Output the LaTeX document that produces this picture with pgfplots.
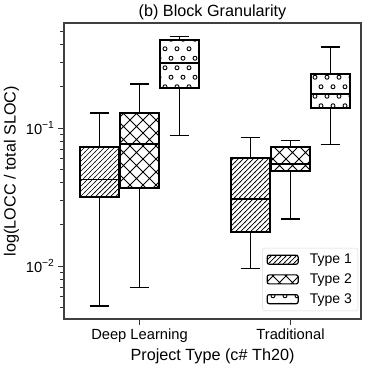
\documentclass[border=0pt]{standalone}
\usepackage{pgfplots}
\pgfplotsset{compat=1.18}
\usetikzlibrary{patterns}
\usepackage{fontspec}
\setmainfont{Liberation Sans}

\pgfdeclarepatternformonly{mylines}{\pgfqpoint{-1pt}{-1pt}}{\pgfqpoint{6pt}{6pt}}{\pgfqpoint{5pt}{5pt}}{%
 \pgfsetlinewidth{0.7pt}%
 \pgfpathmoveto{\pgfqpoint{-0.5pt}{-0.5pt}}%
 \pgfpathlineto{\pgfqpoint{5.5pt}{5.5pt}}%
 \pgfusepath{stroke}}
\pgfdeclarepatternformonly{mycross}{\pgfqpoint{-1pt}{-1pt}}{\pgfqpoint{14pt}{14pt}}{\pgfqpoint{13pt}{13pt}}{%
 \pgfsetlinewidth{0.8pt}%
 \pgfpathmoveto{\pgfqpoint{-0.5pt}{-0.5pt}}\pgfpathlineto{\pgfqpoint{13.5pt}{13.5pt}}%
 \pgfpathmoveto{\pgfqpoint{-0.5pt}{13.5pt}}\pgfpathlineto{\pgfqpoint{13.5pt}{-0.5pt}}%
 \pgfusepath{stroke}}
\pgfdeclarepatternformonly{mycircles}{\pgfqpoint{-3pt}{-3pt}}{\pgfqpoint{15pt}{22pt}}{\pgfqpoint{12pt}{19pt}}{%
 \pgfsetlinewidth{0.9pt}%
 \pgfpathcircle{\pgfqpoint{3pt}{4.75pt}}{2pt}%
 \pgfpathcircle{\pgfqpoint{9pt}{14.25pt}}{2pt}%
 \pgfusepath{stroke}}

\pgfplotsset{
 whisk/.style={black, line width=1.5pt, unbounded coords=jump, forget plot},
 boxs/.style={black, line width=2.2pt, line join=miter, forget plot},
 med/.style={black, line width=1.6pt, forget plot},
}

\begin{document}
\begin{tikzpicture}
\begin{axis}[
 scale only axis, width=297pt, height=296pt,
 xmin=-0.5, xmax=1.467,
 ymode=log, ymin=0.00413, ymax=0.577,
 xtick={0,1}, xticklabels={Deep Learning, Traditional},
 ytick={0.01,0.1}, yticklabels={10\textsuperscript{−2},10\textsuperscript{−1}},
 minor ytick={0.005,0.006,0.007,0.008,0.009,0.02,0.03,0.04,0.05,0.06,0.07,0.08,0.09,0.2,0.3,0.4,0.5},
 tick align=outside, tick pos=left,
 major tick length=6pt, minor tick length=3.5pt,
 every tick/.style={line width=1pt, color=black!80},
 axis line style={line width=1.2pt, color=black!75},
 ticklabel style={font=\fontsize{14.7}{16}\selectfont},
 label style={font=\fontsize{16.2}{18}\selectfont},
 title style={font=\fontsize{16.2}{18}\selectfont, at={(0.5,1)}, anchor=base, yshift=0.5pt},
 title={(b) Block Granularity},
 xlabel={Project Type (c\# Th20)},
 ylabel={log(LOCC / total SLOC)},
 legend style={at={(1,0)}, xshift=-3pt, yshift=8pt, anchor=south east, draw=black!15, rounded corners=2pt, fill=white, font=\fontsize{14}{16}\selectfont, row sep=4.5pt, inner sep=4pt,
   /tikz/every odd column/.append style={column sep=9pt}},
 legend cell align=left,
]
\addlegendimage{legend image code/.code={\draw[black, line width=1.2pt, pattern=mylines] (0pt,-4.5pt) rectangle (31pt,4.5pt);}}
\addlegendentry{Type 1}
\addlegendimage{legend image code/.code={\draw[black, line width=1.2pt, pattern=mycross] (0pt,-4.5pt) rectangle (31pt,4.5pt);}}
\addlegendentry{Type 2}
\addlegendimage{legend image code/.code={\draw[black, line width=1.2pt, pattern=mycircles] (0pt,-4.5pt) rectangle (31pt,4.5pt);}}
\addlegendentry{Type 3}

% ---- Deep Learning, Type 1 (x=-0.265): lw 0.00515, q1 0.0318, med 0.0425, q3 0.0732, uw 0.1285
\addplot[whisk] coordinates {(-0.265,0.0732) (-0.265,0.1285) (-0.265,nan) (-0.33,0.1285) (-0.2,0.1285) (-0.2,nan)
 (-0.265,0.0318) (-0.265,0.00515) (-0.265,nan) (-0.33,0.00515) (-0.2,0.00515)};
\addplot[boxs, pattern=mylines] coordinates {(-0.395,0.0318) (-0.135,0.0318) (-0.135,0.0732) (-0.395,0.0732)} -- cycle;
\addplot[med] coordinates {(-0.395,0.0425) (-0.135,0.0425)};

% ---- Deep Learning, Type 2 (x=0): lw 0.0070, q1 0.0366, med 0.0766, q3 0.129, uw 0.2085
\addplot[whisk] coordinates {(0,0.129) (0,0.2085) (0,nan) (-0.065,0.2085) (0.065,0.2085) (0.065,nan)
 (0,0.0366) (0,0.0070) (0,nan) (-0.065,0.0070) (0.065,0.0070)};
\addplot[boxs, pattern=mycross] coordinates {(-0.13,0.0366) (0.13,0.0366) (0.13,0.129) (-0.13,0.129)} -- cycle;
\addplot[med] coordinates {(-0.13,0.0766) (0.13,0.0766)};

% ---- Deep Learning, Type 3 (x=0.265): lw 0.0885, q1 0.194, med 0.297, q3 0.435, uw 0.459
\addplot[whisk] coordinates {(0.265,0.435) (0.265,0.459) (0.265,nan) (0.2,0.459) (0.33,0.459) (0.33,nan)
 (0.265,0.194) (0.265,0.0885) (0.265,nan) (0.2,0.0885) (0.33,0.0885)};
\addplot[boxs, pattern=mycircles] coordinates {(0.135,0.194) (0.395,0.194) (0.395,0.435) (0.135,0.435)} -- cycle;
\addplot[med] coordinates {(0.135,0.297) (0.395,0.297)};

% ---- Traditional, Type 1 (x=0.735): lw 0.00956, q1 0.0177, med 0.0306, q3 0.0603, uw 0.0856
\addplot[whisk] coordinates {(0.735,0.0603) (0.735,0.0856) (0.735,nan) (0.67,0.0856) (0.8,0.0856) (0.8,nan)
 (0.735,0.0177) (0.735,0.00956) (0.735,nan) (0.67,0.00956) (0.8,0.00956)};
\addplot[boxs, pattern=mylines] coordinates {(0.605,0.0177) (0.865,0.0177) (0.865,0.0603) (0.605,0.0603)} -- cycle;
\addplot[med] coordinates {(0.605,0.0306) (0.865,0.0306)};

% ---- Traditional, Type 2 (x=1): lw 0.0219, q1 0.0491, med 0.0548, q3 0.0732, uw 0.0809
\addplot[whisk] coordinates {(1,0.0732) (1,0.0809) (1,nan) (0.935,0.0809) (1.065,0.0809) (1.065,nan)
 (1,0.0491) (1,0.0219) (1,nan) (0.935,0.0219) (1.065,0.0219)};
\addplot[boxs, pattern=mycross] coordinates {(0.87,0.0491) (1.13,0.0491) (1.13,0.0732) (0.87,0.0732)} -- cycle;
\addplot[med] coordinates {(0.87,0.0548) (1.13,0.0548)};

% ---- Traditional, Type 3 (x=1.265): lw 0.0757, q1 0.140, med 0.176, q3 0.246, uw 0.386
\addplot[whisk] coordinates {(1.265,0.246) (1.265,0.386) (1.265,nan) (1.2,0.386) (1.33,0.386) (1.33,nan)
 (1.265,0.140) (1.265,0.0757) (1.265,nan) (1.2,0.0757) (1.33,0.0757)};
\addplot[boxs, pattern=mycircles] coordinates {(1.135,0.140) (1.395,0.140) (1.395,0.246) (1.135,0.246)} -- cycle;
\addplot[med] coordinates {(1.135,0.176) (1.395,0.176)};
\end{axis}
\pgfresetboundingbox
\path[use as bounding box] ([xshift=-64pt,yshift=-48pt]current axis.south west) rectangle ([xshift=12pt,yshift=23pt]current axis.north east);
\end{tikzpicture}
\end{document}
